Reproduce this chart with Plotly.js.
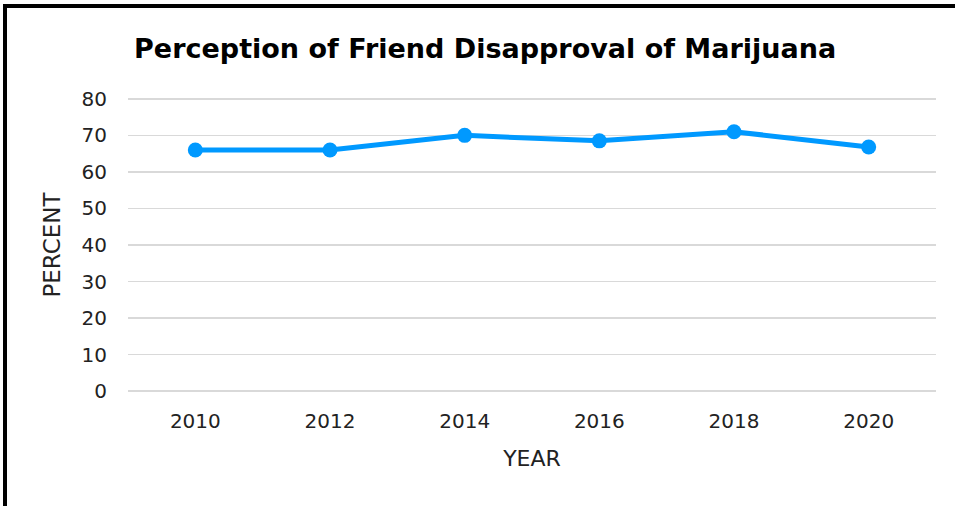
<!DOCTYPE html>
<html>
<head>
<meta charset="utf-8">
<script src="https://cdn.plot.ly/plotly-3.0.1.min.js"></script>
<style>
    body { margin: 0; background: white; }
    #wrap { position: relative; width: 955px; height: 506px; }
    #chart { position: absolute; left: 0; top: 0; width: 955px; height: 506px; }
    #frame { position: absolute; left: 3px; top: 4px; right: 0; bottom: 0;
        border-left: 4px solid black; border-top: 4px solid black; pointer-events: none; }
</style>
</head>
<body>
<div id="wrap">
    <div id="chart"></div>
    <div id="frame"></div>
</div>
<script>
var years = ["2010", "2012", "2014", "2016", "2018", "2020"];
var percent = [66, 66, 70, 68.5, 71, 66.8];

var font = "'DejaVu Sans', Arial, sans-serif";

var trace = {
    x: years,
    y: percent,
    type: "scatter",
    mode: "lines+markers",
    line: {color: "#0099ff", width: 5},
    marker: {color: "#0099ff", size: 15},
    showlegend: false,
    hoverinfo: "skip"
};

var layout = {
    width: 955,
    height: 506,
    paper_bgcolor: "white",
    plot_bgcolor: "white",
    margin: {l: 128, r: 19, t: 97, b: 113},
    title: {
        text: "<b>Perception of Friend Disapproval of Marijuana</b>",
        font: {family: font, size: 27, color: "black"},
        x: 0.508,
        xanchor: "center",
        y: 0.905,
        yanchor: "middle"
    },
    xaxis: {
        type: "category",
        range: [-0.5, 5.5],
        title: {text: "YEAR", font: {family: font, size: 22, color: "#222"}, standoff: 18},
        tickfont: {family: font, size: 20, color: "#222"},
        showgrid: false,
        zeroline: false,
        showline: false,
        ticks: "",
        ticklabelstandoff: 14
    },
    yaxis: {
        range: [-0.5, 80.5],
        dtick: 10,
        title: {text: "PERCENT", font: {family: font, size: 23, color: "#222"}, standoff: 14},
        tickfont: {family: font, size: 20, color: "#222"},
        showgrid: true,
        gridcolor: "#d9d9d9",
        gridwidth: 1.5,
        zeroline: false,
        showline: false,
        ticks: "",
        ticklabelstandoff: 20
    }
};

Plotly.newPlot("chart", [trace], layout, {displayModeBar: false, staticPlot: true});
</script>
</body>
</html>
